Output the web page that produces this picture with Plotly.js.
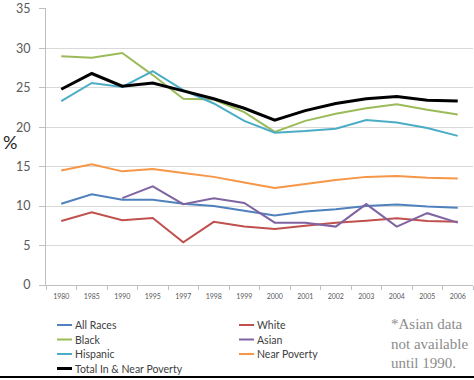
<!DOCTYPE html>
<html>
<head>
<meta charset="utf-8">
<script src="https://cdn.plot.ly/plotly-3.0.1.min.js"></script>
<style>html,body{margin:0;padding:0;background:#fff;}#chart{width:474px;height:380px;}</style>
</head>
<body>
<div id="chart"></div>
<script>
const years = ['1980','1985','1990','1995','1997','1998','1999','2000','2001','2002','2003','2004','2005','2006'];
const allRaces = [10.3,11.5,10.8,10.8,10.3,10.0,9.4,8.8,9.3,9.6,10.0,10.2,9.95,9.8];
const white = [8.1,9.2,8.2,8.5,5.4,8.0,7.4,7.1,7.5,7.9,8.15,8.45,8.1,8.0];
const black = [29.0,28.8,29.4,26.6,23.6,23.5,21.9,19.4,20.8,21.7,22.4,22.9,22.2,21.6];
const asian = [null,null,11.0,12.5,10.25,11.0,10.4,7.9,7.9,7.4,10.25,7.4,9.1,7.9];
const hispanic = [23.3,25.6,25.1,27.1,24.7,23.0,20.8,19.3,19.5,19.8,20.9,20.6,19.9,18.9];
const nearPoverty = [14.5,15.3,14.4,14.7,14.2,13.7,13.0,12.3,12.8,13.3,13.7,13.8,13.6,13.5];
const totalInNear = [24.8,26.8,25.2,25.6,24.6,23.6,22.4,20.9,22.1,23.0,23.6,23.9,23.4,23.3];
const yTicks = [0,5,10,15,20,25,30,35];

const seriesNames = ['All Races','White','Black','Asian','Hispanic','Near Poverty','Total In & Near Poverty'];
const seriesValues = [allRaces, white, black, asian, hispanic, nearPoverty, totalInNear];
const seriesColors = ['#4F81BD','#C0504D','#9BBB59','#8064A2','#4BACC6','#F79646','#000000'];
const seriesWidths = [2,2,2,2,2,2,3];

const W = 474, H = 380, ML = 46, MR = 1, MT = 8, MB = 95;
const PW = W - ML - MR, PH = H - MT - MB;
const px2x = px => (px - ML) / PW;
const py2y = py => (H - MB - py) / PH;

const traces = seriesNames.map((n, i) => ({
  x: years, y: seriesValues[i], name: n, type: 'scatter', mode: 'lines',
  line: {color: seriesColors[i], width: seriesWidths[i]},
  connectgaps: false, showlegend: false
}));

// custom two-column legend
const shapes = [];
const annotations = [];
const colLine = [57, 239];
const rowY = [325, 339.5, 354, 368.5];
seriesNames.forEach((n, i) => {
  const c = i % 2, r = Math.floor(i / 2);
  const x0 = colLine[c], y = rowY[r];
  shapes.push({type:'line', xref:'paper', yref:'paper', x0:px2x(x0), x1:px2x(x0+15), y0:py2y(y), y1:py2y(y),
    line:{color: seriesColors[i], width: seriesWidths[i]}});
  annotations.push({xref:'paper', yref:'paper', x:px2x(x0+16), y:py2y(y), xanchor:'left', yanchor:'middle',
    text:n, showarrow:false, font:{family:'Lato, sans-serif', size:10.5, color:'#404040'}});
});
annotations.push({xref:'paper', yref:'paper', x:px2x(389), y:py2y(314), xanchor:'left', yanchor:'top', align:'left',
  text:'*Asian data<br>not available<br>until 1990.', showarrow:false,
  font:{family:'Liberation Serif, Times New Roman, serif', size:15, color:'#8c8c8c'}});
annotations.push({xref:'paper', yref:'paper', x:px2x(10), y:py2y(142), xanchor:'center', yanchor:'middle',
  text:'%', showarrow:false, font:{family:'Lato, sans-serif', size:18, color:'#262626'}});
shapes.push({type:'line', xref:'paper', yref:'paper', x0:px2x(0), x1:px2x(474), y0:py2y(377), y1:py2y(377),
  line:{color:'#000', width:2}});

const layout = {
  width: W, height: H,
  margin: {l: ML, r: MR, t: MT, b: MB, pad: 0},
  paper_bgcolor: '#fff', plot_bgcolor: '#fff',
  showlegend: false,
  xaxis: {
    type: 'category', range: [-0.5, 13.5], tickson: 'boundaries',
    ticks: 'outside', ticklen: 4, tickcolor: '#bfbfbf',
    showline: true, linecolor: '#bfbfbf', linewidth: 1, showgrid: false, zeroline: false,
    tickfont: {family: 'Lato, sans-serif', size: 7, color: '#595959'},
    ticklabelstandoff: 5, fixedrange: true
  },
  yaxis: {
    range: [0, 35.1], tickmode: 'array', tickvals: yTicks,
    ticks: 'outside', ticklen: 6, tickcolor: '#bfbfbf',
    showline: true, linecolor: '#bfbfbf', linewidth: 1,
    showgrid: true, gridcolor: '#d9d9d9', gridwidth: 1, zeroline: false,
    tickfont: {family: 'Lato, sans-serif', size: 12.5, color: '#595959'},
    ticklabelstandoff: 6, ticklabeloverflow: 'allow', fixedrange: true
  },
  shapes: shapes,
  annotations: annotations
};

Plotly.newPlot('chart', traces, layout, {displayModeBar: false, staticPlot: true});
</script>
</body>
</html>
